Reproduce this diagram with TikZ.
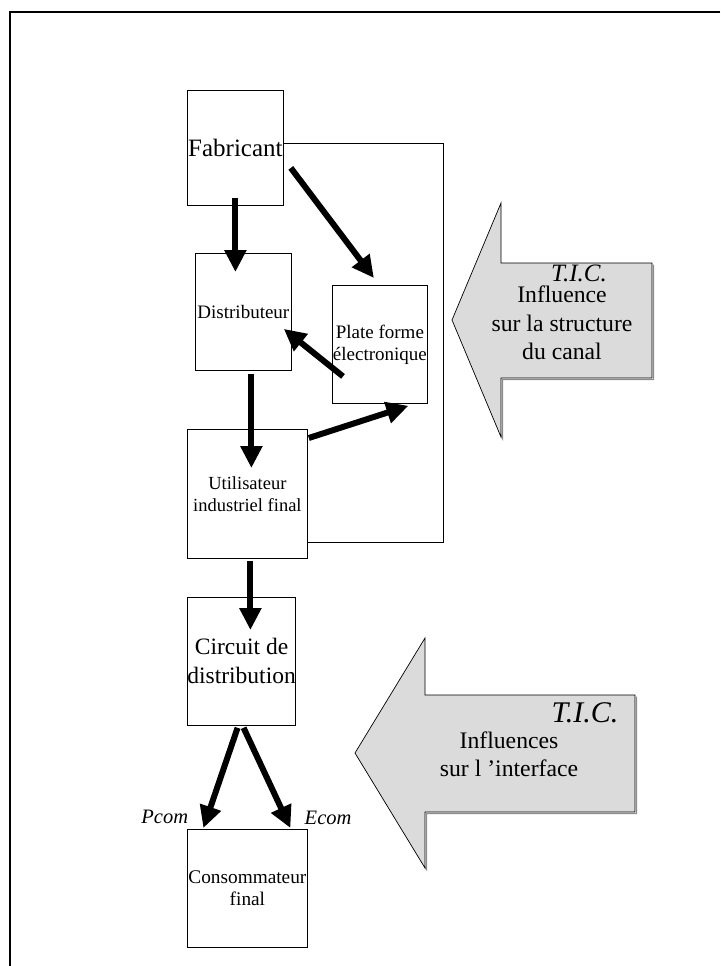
\documentclass[tikz,border=0pt]{standalone}
\usepackage{fontspec}
\setmainfont{Liberation Serif}
\usetikzlibrary{arrows.meta,calc}
\newcommand{\fs}[2]{\fontsize{#1}{#2}\selectfont}
\tikzset{
  box/.style={
    draw,
    line width=0.8pt,
    anchor=north west,
    align=center,
    inner sep=0pt
  },
  flow/.style={
    line width=6pt,
    -{Triangle[width=21pt,length=22pt]}
  },
  tic/.style={
    draw,
    line width=0.7pt,
    fill=black!14
  },
  ticshadow/.style={
    draw=black!45,
    line width=1pt
  },
  tag/.style={font=\fs{20.5}{24}\itshape}
}

\begin{document}
\begin{tikzpicture}[x=1pt,y=-1pt]
\useasboundingbox (0,0) rectangle (720,966);

% --- frame ---
\draw[line width=1.6pt] (720,12) -| (10,966);

% --- channel boxes ---
\node[box, minimum width=96pt, minimum height=115pt, font=\fs{25}{30}] (fab) at (187,90) {Fabricant};
\node[box, minimum width=96pt, minimum height=117pt, font=\fs{19}{22}] (dist) at (195,253) {Distributeur};
\node[box, minimum width=95pt, minimum height=118pt, font=\fs{19}{22}] (plate) at (332,285) {Plate forme\\électronique};
\node[box, minimum width=120pt, minimum height=129pt, font=\fs{18.5}{22}] (util) at (187,429) {Utilisateur\\industriel final};
\node[box, minimum width=108pt, minimum height=128pt, font=\fs{23.5}{29}] (circ) at (187,597) {Circuit de\\distribution};
\node[box, minimum width=120pt, minimum height=118pt, font=\fs{19.3}{22}] (cons) at (187,829) {Consommateur\\final};

% --- bracket round the channel ---
\coordinate (brk) at (443,542);
\draw[line width=0.8pt] ([yshift=5pt]fab.east) -| (brk) -- (brk -| util.east);

% --- flows ---
\draw[flow] ($(fab.south)+(0,-8)$) -- ($(fab.south |- dist.north)+(0,19)$);
\draw[flow] ($(fab.east)+(7,20)$) -- ($(plate.north)+(-6,-7)$);
\draw[flow] ($(plate.west)+(11,32)$) -- ($(dist.east)+(-8,17)$);
\draw[flow] ($(dist.south)+(8,3)$) -- ($(dist.south |- util.north)+(8,39)$);
\draw[flow] ($(util.north east)+(1,9)$) -- ($(plate.south)+(28.5,2)$);
\draw[flow] ($(util.south)+(3,2)$) -- ($(util.south |- circ.north)+(3,33)$);
\draw[flow] ($(circ.south)+(-4,2)$) -- ($(cons.north)+(-44,-1)$)
  node[tag, anchor=east, pos=1, xshift=-9pt, yshift=11pt] (pcom) {Pcom};
\draw[flow] ($(circ.south)+(2,2)$) -- ($(cons.north)+(43,-1)$)
  node[tag, anchor=west, pos=1, xshift=8pt, yshift=10pt] (ecom) {Ecom};

% --- T.I.C. arrows ---
\draw[ticshadow] (453.5,321.5) -- (502.5,438.5) -- (502.5,379.5) -- (653.5,379.5) -- (653.5,264.5);
\draw[tic] (452,320) -- (501,203) -- (501,263) -- (652,263) -- (652,378) -- (501,378) -- (501,437) -- cycle;
\node[font=\fs{25}{30}\itshape] (tic1) at (579,273) {T.I.C.};
\node[font=\fs{23.7}{28.5}, align=center] (canal) at (562,323) {Influence\\sur la structure\\du canal};

\draw[ticshadow] (356.5,754.5) -- (426.5,869.5) -- (426.5,813.5) -- (636.5,813.5) -- (636.5,696.5);
\draw[tic] (355,753) -- (425,638) -- (425,695) -- (635,695) -- (635,812) -- (425,812) -- (425,868) -- cycle;
\node[font=\fs{30}{36}\itshape] (tic2) at (585,713) {T.I.C.};
\node[font=\fs{23.7}{28}, align=center] (iface) at (509,754) {Influences\\sur l ’interface};

\end{tikzpicture}
\end{document}
